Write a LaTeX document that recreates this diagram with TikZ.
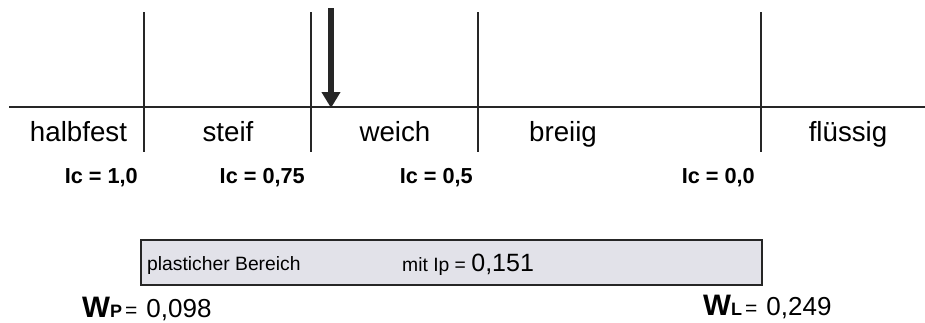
\documentclass[tikz,border=0pt]{standalone}
\usepackage{fontspec}
\setmainfont{Liberation Sans}
\usetikzlibrary{arrows.meta, positioning}
\definecolor{boxgray}{HTML}{E2E2E9}
\tikzset{
  zonelbl/.style={anchor=base,inner sep=0pt,font=\fontsize{27.7}{30}\selectfont},
  iclbl/.style={anchor=base east,inner sep=0pt,font=\fontsize{21.7}{24}\selectfont\bfseries},
  boxlbl/.style={anchor=base west,inner sep=0pt,font=\fontsize{19.3}{22}\selectfont},
  wlbl/.style={anchor=base west,inner sep=0pt},
  bound/.style={line width=1.5pt,black!85},
  axisline/.style={line width=2pt,black!85},
  markarrow/.style={-{Triangle[length=16pt,width=18pt]},line width=6pt,black!85},
  rangebox/.style={draw=black!85,line width=1.6pt,fill=boxgray,minimum width=621pt,minimum height=45pt,inner sep=0pt},
}
\newcommand{\bigW}[1]{{\fontsize{29.6}{32}\selectfont\bfseries W}{\fontsize{18}{20}\selectfont\bfseries #1}}

\begin{document}
\begin{tikzpicture}[x=1pt,y=-1pt]
  \useasboundingbox (0,0) rectangle (925,322);
  % consistency scale
  \coordinate (axl) at (9,107);
  \coordinate (axr) at (925,107);
  \draw[axisline] (axl) -- (axr);
  \foreach \bx/\bn in {144/a,311/b,478/c,761/d} {
    \coordinate (top\bn) at (\bx,12);
    \coordinate (bot\bn) at (\bx,152);
    \draw[bound] (top\bn) -- (bot\bn);
  }
  \coordinate (arrtop) at (331,8);
  \coordinate (arrtip) at (331,108);
  \draw[markarrow] (arrtop) -- (arrtip);
  \node[zonelbl] (zhalb) at (78.5,141) {halbfest};
  \node[zonelbl] (zsteif) at (228,141) {steif};
  \node[zonelbl] (zweich) at (395,141) {weich};
  \node[zonelbl] (zbrei) at (563,141) {breiig};
  \node[zonelbl] (zfl) at (848,141) {flüssig};
  \node[iclbl] (ica) at (138,183) {Ic = 1,0};
  \node[iclbl] (icb) at (305,183) {Ic = 0,75};
  \node[iclbl] (icc) at (473,183) {Ic = 0,5};
  \node[iclbl] (icd) at (755,183) {Ic = 0,0};
  % plastic range
  \node[rangebox] (range) at (451.5,262.5) {};
  \node[boxlbl] (rtxt) at (147,270) {plasticher Bereich};
  \node[boxlbl] (iptxt) at (402,271) {mit Ip = \fontsize{25}{28}\selectfont 0,151};
  \node[wlbl] (wp) at (82,317) {\bigW{P}\hspace{3pt}{\fontsize{21}{24}\selectfont =}\hspace{9pt}{\fontsize{26}{28}\selectfont 0,098}};
  \node[wlbl] (wl) at (703,315) {\bigW{L}\hspace{3pt}{\fontsize{21}{24}\selectfont =}\hspace{9pt}{\fontsize{26}{28}\selectfont 0,249}};
\end{tikzpicture}
\end{document}
